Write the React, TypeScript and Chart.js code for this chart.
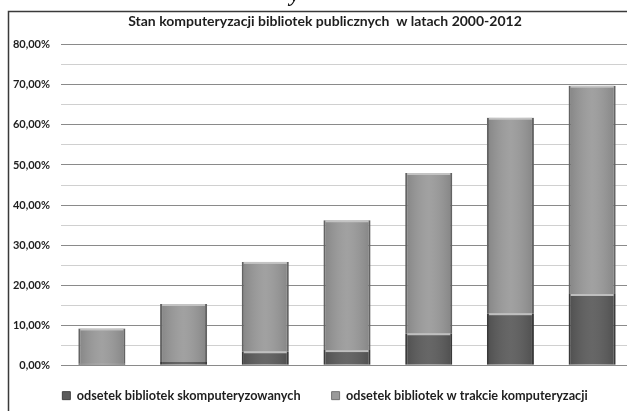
import React, { useEffect, useRef } from 'react';
import { Chart, registerables } from 'chart.js';

Chart.register(...registerables);

const years = ['2000', '2002', '2004', '2006', '2008', '2010', '2012'];
const computerized = [0.5, 0.8, 3.5, 3.8, 8.0, 13.0, 17.8];
const inProgress = [8.7, 14.5, 22.3, 32.4, 40.0, 48.8, 52.0];
const seriesNames = [
  'odsetek bibliotek skomputeryzowanych',
  'odsetek bibliotek w trakcie komputeryzacji',
];
const chartTitle = 'Stan komputeryzacji bibliotek publicznych  w latach 2000-2012';
const yMin = 0;
const yMax = 80;
const yStep = 5;
const yLabelStep = 10;

const FONT = 'Lato, "Open Sans", sans-serif';

const decorPlugin = {
  id: 'decor',
  beforeDraw(chart: any) {
    const ctx = chart.ctx;
    ctx.save();
    ctx.fillStyle = '#ffffff';
    ctx.fillRect(0, 0, chart.width, chart.height);
    ctx.strokeStyle = '#3a3a3a';
    ctx.lineWidth = 1.5;
    ctx.beginPath();
    ctx.moveTo(8.5, chart.height);
    ctx.lineTo(8.5, 11.5);
    ctx.lineTo(chart.width, 11.5);
    ctx.stroke();
    ctx.fillStyle = '#111';
    ctx.font = 'italic bold 22px "Liberation Serif", serif';
    ctx.textBaseline = 'alphabetic';
    ctx.fillText('y', 290, 1);
    ctx.restore();
  },
  afterDatasetsDraw(chart: any) {
    const ctx = chart.ctx;
    ctx.save();
    chart.data.datasets.forEach((ds: any, di: number) => {
      const meta = chart.getDatasetMeta(di);
      meta.data.forEach((el: any, i: number) => {
        const { x, y, width, base } = el.getProps(['x', 'y', 'width', 'base'], true);
        const l = x - width / 2;
        const g = ctx.createLinearGradient(l, 0, l + width, 0);
        g.addColorStop(0, 'rgba(0,0,0,0.14)');
        g.addColorStop(0.5, 'rgba(255,255,255,0.07)');
        g.addColorStop(1, 'rgba(0,0,0,0.14)');
        ctx.fillStyle = g;
        ctx.fillRect(l, Math.min(y, base), width, Math.abs(base - y));
      });
    });
    chart.data.datasets.forEach((ds: any, di: number) => {
      const meta = chart.getDatasetMeta(di);
      meta.data.forEach((el: any, i: number) => {
        const v = ds.data[i];
        if (v < 2) return;
        const { x, y, width } = el.getProps(['x', 'y', 'width'], true);
        ctx.fillStyle = di === 0 ? 'rgba(196,196,196,0.95)' : 'rgba(200,200,200,0.9)';
        ctx.fillRect(x - width / 2 + 2, y, width - 4, 2);
      });
    });
    ctx.restore();
  },
};

export default function App() {
  const ref = useRef<HTMLCanvasElement | null>(null);

  useEffect(() => {
    if (!ref.current) return;
    const chart = new Chart(ref.current, {
      type: 'bar',
      data: {
        labels: years,
        datasets: [
          {
            label: seriesNames[0],
            data: computerized,
            backgroundColor: '#5b5b5b',
            borderColor: '#424242',
            borderWidth: { left: 2, right: 2, top: 0, bottom: 0 },
            borderSkipped: false,
            barPercentage: 0.575,
            categoryPercentage: 1,
          },
          {
            label: seriesNames[1],
            data: inProgress,
            backgroundColor: '#9a9a9a',
            borderColor: '#727272',
            borderWidth: { left: 2, right: 2, top: 0, bottom: 0 },
            borderSkipped: false,
            barPercentage: 0.575,
            categoryPercentage: 1,
          },
        ],
      },
      options: {
        responsive: false,
        animation: false,
        devicePixelRatio: 1,
        layout: { padding: { left: 8, right: 2, top: 0, bottom: -8 } },
        plugins: {
          title: {
            display: true,
            text: chartTitle,
            color: '#1e1e1e',
            font: { family: FONT, size: 14, weight: 'bold' },
            padding: { top: 13, bottom: 15 },
          },
          legend: {
            display: true,
            position: 'bottom',
            labels: {
              color: '#1e1e1e',
              font: { family: FONT, size: 12.7, weight: 'bold' },
              boxWidth: 8,
              boxHeight: 8,
              padding: 31,
            },
          },
          tooltip: { enabled: false },
        },
        scales: {
          x: {
            stacked: true,
            offset: true,
            grid: { display: false },
            border: { display: false },
            ticks: {
              color: '#1e1e1e',
              font: { family: FONT, size: 11, weight: 'bold' },
              padding: 9,
            },
            afterFit: (s: any) => {
              s.height = -7;
            },
          },
          y: {
            stacked: true,
            min: yMin,
            max: yMax,
            border: { display: false },
            grid: {
              drawTicks: false,
              color: (c: any) =>
                c.tick && c.tick.value % yLabelStep === 0 ? '#8a8a8a' : '#d0d0d0',
              lineWidth: 1,
            },
            ticks: {
              stepSize: yStep,
              padding: 11,
              color: '#1e1e1e',
              font: { family: FONT, size: 11, weight: 'bold' },
              callback: (v: any) =>
                Number(v) % yLabelStep === 0
                  ? Number(v).toFixed(2).replace('.', ',') + '%'
                  : '',
            },
            afterFit: (s: any) => {
              s.width = 53;
            },
          },
          yR: {
            position: 'right',
            display: true,
            grid: { display: false },
            border: { display: false },
            ticks: { display: false },
            afterFit: (s: any) => {
              s.width = 9;
            },
          },
        },
      },
      plugins: [decorPlugin],
    } as any);
    return () => chart.destroy();
  }, []);

  return (
    <div
      style={{
        position: 'absolute',
        left: 0,
        top: 0,
        width: 627,
        height: 411,
        overflow: 'hidden',
        background: '#fff',
      }}
    >
      <canvas ref={ref} width={644} height={411} style={{ display: 'block' }} />
    </div>
  );
}
